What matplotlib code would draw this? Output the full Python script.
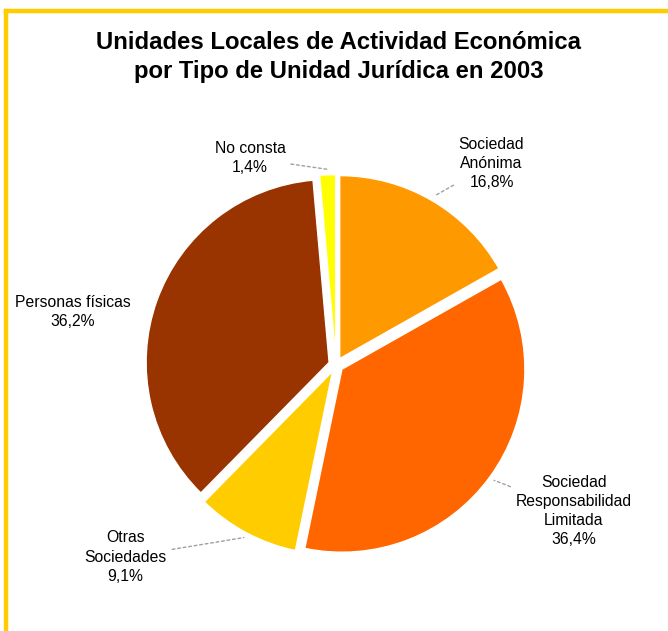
import numpy as np
import matplotlib.pyplot as plt
from matplotlib.lines import Line2D

plt.rcParams['font.family'] = ['Liberation Sans', 'DejaVu Sans']

categorias = ['Sociedad\nAnónima', 'Sociedad\nResponsabilidad\nLimitada', 'Otras\nSociedades',
              'Personas físicas', 'No consta']
valores = [16.8, 36.4, 9.1, 36.2, 1.4]
etiquetas_pct = ['16,8%', '36,4%', '9,1%', '36,2%', '1,4%']
colores = ['#FF9900', '#FF6600', '#FFCC00', '#993300', '#FFFF00']
# posiciones de las etiquetas (coordenadas del eje) y si llevan linea guia
pos_etiquetas = [(0.85, 1.10), (1.30, -0.80), (-1.15, -1.05), (-1.44, 0.29), (-0.47, 1.13)]
con_guia = [True, True, True, False, True]

fig = plt.figure(figsize=(6.68, 6.31), dpi=100)
fig.patch.set_facecolor('white')

# marco amarillo (solo arriba e izquierda visibles)
fig.add_artist(Line2D([6 / 668, 1.0], [1 - 11 / 631, 1 - 11 / 631], color='#FFCC00', lw=3.2,
                      transform=fig.transFigure))
fig.add_artist(Line2D([6 / 668, 6 / 668], [0.0, 1 - 11 / 631], color='#FFCC00', lw=3.2,
                      transform=fig.transFigure))

fig.text(0.507, 1 - 57 / 631, 'Unidades Locales de Actividad Económica\npor Tipo de Unidad Jurídica en 2003',
         ha='center', va='center', fontsize=17.2, fontweight='bold', linespacing=1.3)

ax = fig.add_axes([0.1475, 0.0452, 0.711, 0.753])
explode = [0.04] * len(valores)
wedges, _ = ax.pie(valores, colors=colores, startangle=90, counterclock=False, explode=explode,
                   wedgeprops=dict(edgecolor='white', linewidth=1.0))
lim = 475 / 2 / 183
ax.set_xlim(-lim, lim)
ax.set_ylim(-lim, lim)
ax.set_aspect('equal')
ax.axis('off')

for w, cat, pct, pos, guia in zip(wedges, categorias, etiquetas_pct, pos_etiquetas, con_guia):
    ang = np.deg2rad((w.theta1 + w.theta2) / 2)
    cx, cy = w.center
    punto = (cx + 1.03 * np.cos(ang), cy + 1.03 * np.sin(ang))
    props = None
    if guia:
        props = dict(arrowstyle='-', linestyle=(0, (2, 2)), color='#A0A0A0', lw=1.0,
                     shrinkA=2, shrinkB=0)
    ax.annotate(cat + '\n' + pct, xy=punto, xytext=pos, ha='center', va='center',
                fontsize=11.3, linespacing=1.34, color='black', arrowprops=props,
                annotation_clip=False)

fig.savefig('out.png', dpi=100)
